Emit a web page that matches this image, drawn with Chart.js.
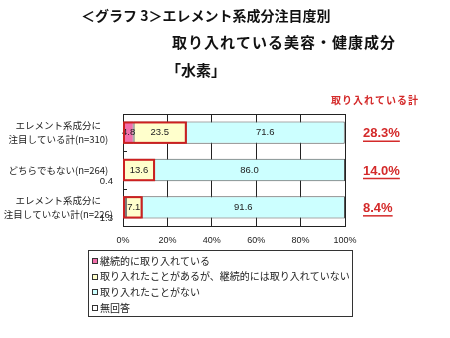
<!DOCTYPE html>
<html lang="ja">
<head>
<meta charset="utf-8">
<script src="https://cdn.jsdelivr.net/npm/chart.js@4.4.1/dist/chart.umd.min.js"></script>
<style>
  html, body { margin: 0; padding: 0; background: #ffffff; }
  #wrap { width: 450px; height: 338px; }
</style>
</head>
<body>
<div id="wrap"><canvas id="waterChart" width="450" height="338"></canvas></div>
<script>
// 注目度別：水素を取り入れているか
const categories = [
  ["エレメント系成分に", "注目している計(n=310)"],
  ["どちらでもない(n=264)"],
  ["エレメント系成分に", "注目していない計(n=226)"]
];
const seriesNames = [
  "継続的に取り入れている",
  "取り入れたことがあるが、継続的には取り入れていない",
  "取り入れたことがない",
  "無回答"
];
const continuing = [4.8, 0.4, 1.3];
const triedBefore = [23.5, 13.6, 7.1];
const neverTried = [71.6, 86.0, 91.6];
const noAnswer = [0, 0, 0];
const xTicks = [0, 20, 40, 60, 80, 100];

const seriesColors = ["#f26fab", "#ffffcc", "#ccffff", "#ffffff"];
const JP = "'Noto Sans CJK JP', 'Noto Sans', sans-serif";
const RED = "#d42a2a";

// 見出し・凡例・計の表示
const decorPlugin = {
  id: "decor",
  beforeDraw(chart) {
    const ctx = chart.ctx;
    ctx.save();
    ctx.fillStyle = "#ffffff";
    ctx.fillRect(0, 0, chart.width, chart.height);
    ctx.restore();
  },
  afterDraw(chart) {
    const ctx = chart.ctx;
    const area = chart.chartArea;
    const y = chart.scales.y;
    ctx.save();

    // タイトル
    ctx.fillStyle = "#111";
    ctx.textBaseline = "middle";
    ctx.textAlign = "left";
    ctx.font = "bold 14px " + JP;
    ctx.fillText("＜グラフ 3＞エレメント系成分注目度別", 81, 16);
    ctx.font = "bold 15px " + JP;
    ctx.letterSpacing = "1px";
    ctx.fillText("取り入れている美容・健康成分", 172, 42);
    ctx.letterSpacing = "0px";
    ctx.fillText("「水素」", 166, 70);

    // 取り入れている計
    ctx.fillStyle = RED;
    ctx.font = "bold 10px " + JP;
    ctx.letterSpacing = "1px";
    ctx.fillText("取り入れている計", 331, 100);
    ctx.letterSpacing = "0px";
    ctx.font = "bold 13px 'Liberation Sans', Arial, sans-serif";
    ctx.strokeStyle = RED;
    ctx.lineWidth = 1.5;
    categories.forEach((c, i) => {
      const total = continuing[i] + triedBefore[i];
      const txt = total.toFixed(1) + "%";
      const cy = y.getPixelForValue(i) + 1;
      ctx.fillText(txt, 363, cy);
      const w = ctx.measureText(txt).width;
      ctx.beginPath();
      ctx.moveTo(363, cy + 7.5);
      ctx.lineTo(363 + w, cy + 7.5);
      ctx.stroke();
    });

    // 上枠と区切り目盛
    ctx.strokeStyle = "#222";
    ctx.lineWidth = 1;
    ctx.beginPath();
    ctx.moveTo(area.left, area.top + 0.5);
    ctx.lineTo(area.right, area.top + 0.5);
    for (let i = 0; i < categories.length - 1; i++) {
      const by = Math.round((y.getPixelForValue(i) + y.getPixelForValue(i + 1)) / 2) + 0.5;
      ctx.moveTo(area.left, by);
      ctx.lineTo(area.left + 4, by);
    }
    ctx.stroke();

    // 凡例
    const lx = 88, ly = 250, lw = 264, lh = 66;
    ctx.strokeStyle = "#333";
    ctx.strokeRect(lx + 0.5, ly + 0.5, lw, lh);
    ctx.font = "10px " + JP;
    seriesNames.forEach((name, i) => {
      const cy = 261 + i * 15.6;
      ctx.fillStyle = seriesColors[i];
      ctx.fillRect(92.5, Math.round(cy) - 2.5, 5, 5);
      ctx.strokeStyle = "#333";
      ctx.strokeRect(92.5, Math.round(cy) - 2.5, 5, 5);
      ctx.fillStyle = "#222";
      ctx.fillText(name, 100, cy);
    });
    ctx.restore();
  },
  afterDatasetsDraw(chart) {
    const ctx = chart.ctx;
    const area = chart.chartArea;
    const x = chart.scales.x;
    ctx.save();
    ctx.textBaseline = "middle";
    ctx.font = "9.5px 'Liberation Sans', Arial, sans-serif";
    ctx.fillStyle = "#222";
    chart.data.datasets.forEach((ds, di) => {
      const meta = chart.getDatasetMeta(di);
      meta.data.forEach((bar, i) => {
        const v = ds.data[i];
        if (!v) return;
        if (v < 3) {
          // 小さい値は軸の左下に表示
          ctx.textAlign = "right";
          ctx.fillText(v.toFixed(1), area.left - 10, bar.y + bar.height / 2);
        } else {
          ctx.textAlign = "center";
          ctx.fillText(v.toFixed(1), (bar.x + bar.base) / 2, bar.y);
        }
      });
    });

    // 取り入れている計の赤枠
    const first = chart.getDatasetMeta(0).data;
    ctx.strokeStyle = "#cc2020";
    ctx.lineWidth = 2;
    first.forEach((bar, i) => {
      const x0 = x.getPixelForValue(0);
      const x1 = x.getPixelForValue(continuing[i] + triedBefore[i]);
      const top = bar.y - bar.height / 2;
      ctx.strokeRect(x0 + 1, top + 1, x1 - x0 - 1, bar.height - 2);
    });
    ctx.restore();
  }
};

const datasets = [continuing, triedBefore, neverTried, noAnswer].map((vals, i) => ({
  label: seriesNames[i],
  data: vals,
  backgroundColor: seriesColors[i],
  borderColor: "#555",
  borderWidth: 1,
  borderSkipped: false,
  barPercentage: 0.6,
  categoryPercentage: 1.0
}));

new Chart(document.getElementById("waterChart"), {
  type: "bar",
  data: { labels: categories, datasets: datasets },
  plugins: [decorPlugin],
  options: {
    indexAxis: "y",
    responsive: false,
    animation: false,
    layout: { padding: { left: 0, right: 105, top: 114, bottom: 92 } },
    plugins: {
      legend: { display: false },
      tooltip: { enabled: false },
      title: { display: false }
    },
    scales: {
      x: {
        stacked: true,
        min: xTicks[0],
        max: xTicks[xTicks.length - 1],
        afterBuildTicks(scale) {
          scale.ticks = xTicks.map(v => ({ value: v }));
        },
        afterFit(scale) { scale.height = 20; },
        grid: { color: "#222", lineWidth: 1, drawTicks: false },
        border: { color: "#222", width: 1 },
        ticks: {
          padding: 9,
          color: "#222",
          font: { family: "'Liberation Sans', Arial, sans-serif", size: 9 },
          callback: v => v + "%"
        }
      },
      y: {
        stacked: true,
        afterFit(scale) { scale.width = 123; },
        grid: { display: false, drawTicks: false },
        border: { color: "#222", width: 1 },
        ticks: {
          crossAlign: "center",
          padding: 10,
          color: "#222",
          font: { family: JP, size: 9.5, lineHeight: 1.45 }
        }
      }
    }
  }
});
</script>
</body>
</html>
